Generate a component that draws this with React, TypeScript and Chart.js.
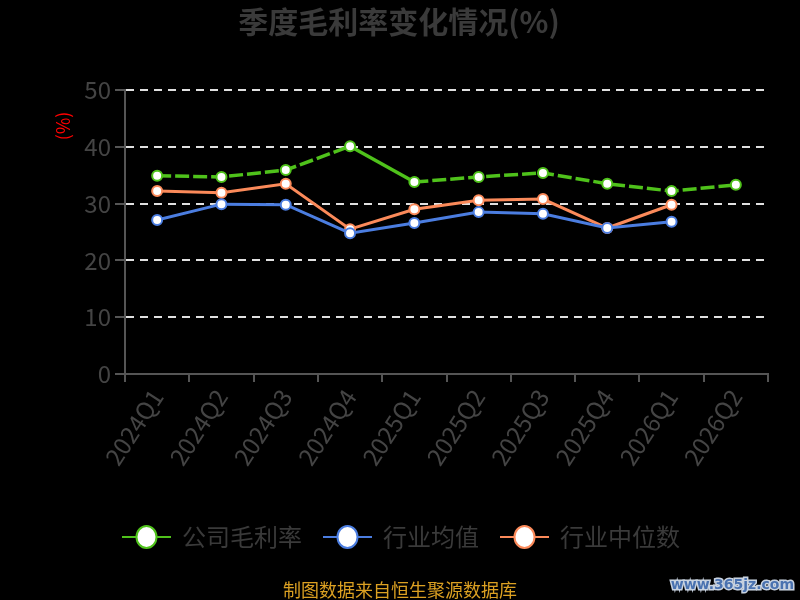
import { useEffect, useRef } from 'react';
import { Chart, type ChartConfiguration, type Plugin, registerables } from 'chart.js';

Chart.register(...registerables);

const quarters = ['2024Q1', '2024Q2', '2024Q3', '2024Q4', '2025Q1', '2025Q2', '2025Q3', '2025Q4', '2026Q1', '2026Q2'];
const companyMargin = [34.9, 34.7, 35.9, 40.1, 33.8, 34.7, 35.4, 33.5, 32.2, 33.3];
const industryAvg = [27.1, 29.9, 29.8, 24.8, 26.6, 28.5, 28.2, 25.7, 26.8, null];
const industryMedian = [32.2, 31.9, 33.5, 25.5, 29.0, 30.6, 30.8, 25.7, 29.8, null];
const yTicks = [0, 10, 20, 30, 40, 50];

const GREEN = '#4fc21b';
const BLUE = '#4b7de0';
const ORANGE = '#fb8a5a';
const TEXT = '#3a3a3a';
const FONT = '"Noto Sans CJK SC", "Noto Sans", sans-serif';

// title, axis name, legend, footer and watermark
const decorPlugin: Plugin<'line'> = {
  id: 'decor',
  afterDraw(chart) {
    const { ctx } = chart;
    ctx.save();
    ctx.textBaseline = 'middle';

    ctx.fillStyle = TEXT;
    ctx.font = `bold 30px ${FONT}`;
    ctx.textAlign = 'center';
    ctx.fillText('季度毛利率变化情况(%)', 399, 22);

    ctx.save();
    ctx.translate(63, 126);
    ctx.rotate(-Math.PI / 2);
    ctx.fillStyle = '#ff0000';
    ctx.font = `18px ${FONT}`;
    ctx.fillText('(%)', 0, 0);
    ctx.restore();

    const items = [
      { x: 122, text: '公司毛利率', color: GREEN },
      { x: 323, text: '行业均值', color: BLUE },
      { x: 500, text: '行业中位数', color: ORANGE },
    ];
    const ly = 537;
    items.forEach((it) => {
      ctx.strokeStyle = it.color;
      ctx.lineWidth = 2;
      ctx.beginPath();
      ctx.moveTo(it.x, ly);
      ctx.lineTo(it.x + 49, ly);
      ctx.stroke();
      ctx.beginPath();
      ctx.ellipse(it.x + 24.5, ly, 10, 11, 0, 0, Math.PI * 2);
      ctx.fillStyle = '#fff';
      ctx.fill();
      ctx.stroke();
      ctx.fillStyle = TEXT;
      ctx.font = `24px ${FONT}`;
      ctx.textAlign = 'left';
      ctx.fillText(it.text, it.x + 60, ly);
    });

    ctx.textAlign = 'center';
    ctx.fillStyle = '#dba022';
    ctx.font = `18px ${FONT}`;
    ctx.fillText('制图数据来自恒生聚源数据库', 400, 590);

    ctx.font = `bold 14px "DejaVu Sans", sans-serif`;
    ctx.textAlign = 'right';
    ctx.lineWidth = 3;
    ctx.strokeStyle = '#c8d2e0';
    ctx.strokeText('www.365jz.com', 794, 585);
    ctx.fillStyle = '#4a72b0';
    ctx.fillText('www.365jz.com', 794, 585);
    ctx.restore();
  },
};

function MarginChart() {
  const canvasRef = useRef<HTMLCanvasElement | null>(null);
  const chartRef = useRef<Chart<'line'> | null>(null);

  useEffect(() => {
    if (!canvasRef.current) return;
    const lineStyle = (color: string, width = 3) => ({
      borderColor: color,
      backgroundColor: color,
      pointBackgroundColor: '#fff',
      pointBorderColor: color,
      pointBorderWidth: 2,
      pointRadius: 5,
      borderWidth: width,
      tension: 0,
      spanGaps: false,
    });
    const config: ChartConfiguration<'line'> = {
      type: 'line',
      data: {
        labels: quarters,
        datasets: [
          {
            label: '公司毛利率',
            data: companyMargin,
            ...lineStyle(GREEN, 3.5),
            borderDash: [14, 4],
            segment: {
              borderDash: (c) => (c.p0DataIndex === 3 ? [] : [14, 4]),
            },
          },
          { label: '行业均值', data: industryAvg, ...lineStyle(BLUE) },
          { label: '行业中位数', data: industryMedian, ...lineStyle(ORANGE) },
        ],
      },
      options: {
        responsive: false,
        animation: false,
        layout: { padding: { top: 90, right: 32, left: 0, bottom: 0 } },
        plugins: {
          legend: { display: false },
          tooltip: { enabled: false },
        },
        scales: {
          x: {
            offset: true,
            border: { color: '#555', width: 2 },
            grid: { offset: true, drawOnChartArea: false, tickLength: 8, tickColor: '#555', lineWidth: 2 },
            ticks: {
              color: '#444',
              font: { size: 24, family: FONT },
              minRotation: 57,
              maxRotation: 57,
              padding: 2,
            },
            afterFit: (scale) => {
              scale.height = 226;
            },
          },
          y: {
            min: 0,
            max: 50,
            border: { color: '#555', width: 2, dash: [8, 6] },
            afterBuildTicks: (scale) => {
              scale.ticks = yTicks.map((v) => ({ value: v }));
            },
            grid: {
              color: (c) => (c.tick && c.tick.value === 0 ? 'rgba(0,0,0,0)' : '#e0e0e0'),
              lineWidth: 2,
              tickColor: '#555',
              tickLength: 10,
              tickBorderDash: [],
            },
            ticks: {
              color: '#444',
              font: { size: 24, family: FONT },
              padding: 4,
            },
            afterFit: (scale) => {
              scale.width = 125;
            },
          },
        },
      },
      plugins: [decorPlugin],
    };

    if (!chartRef.current) chartRef.current = new Chart(canvasRef.current, config);

    return () => {
      chartRef.current?.destroy();
      chartRef.current = null;
    };
  }, []);

  return <canvas ref={canvasRef} width={800} height={600} style={{ display: 'block' }} />;
}

export default function App() {
  useEffect(() => {
    document.body.style.margin = '0';
    document.body.style.background = '#000';
  }, []);
  return (
    <div style={{ width: 800, height: 600, background: '#000' }}>
      <MarginChart />
    </div>
  );
}
